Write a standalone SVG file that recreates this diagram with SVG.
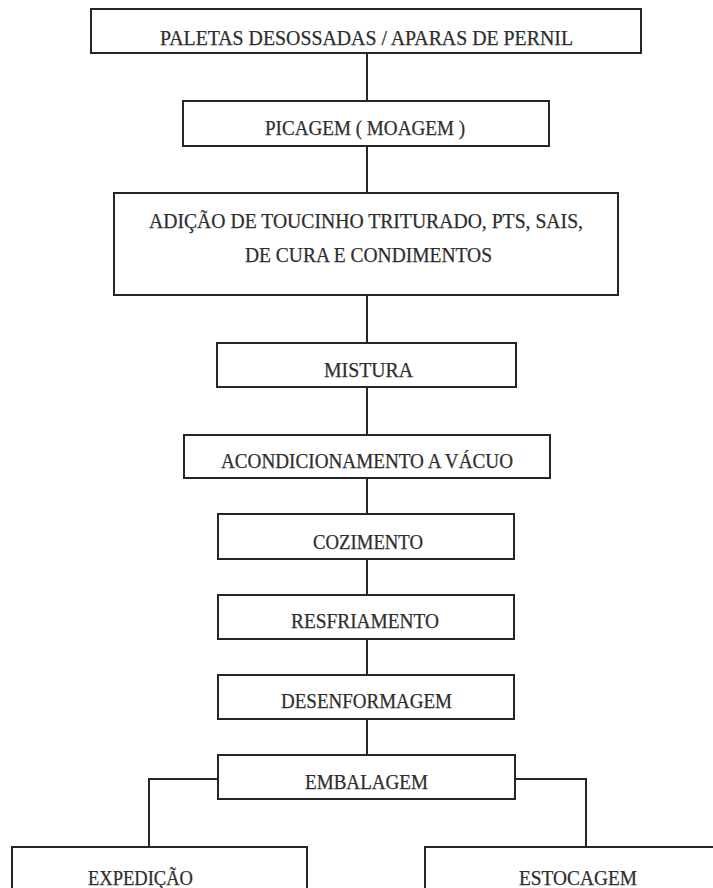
<svg xmlns="http://www.w3.org/2000/svg" width="713" height="888" viewBox="0 0 713 888">
  <style>
    .box { fill: #ffffff; stroke: #262626; stroke-width: 2; }
    .wire { fill: none; stroke: #262626; stroke-width: 2; }
    .label { font-family: "Liberation Serif", "Times New Roman", serif; font-size: 20px; fill: #2e2e2e; stroke: #2e2e2e; stroke-width: 0.25; text-anchor: middle; }
  </style>
  <rect width="713" height="888" fill="#ffffff"/>

  <!-- connectors between process steps -->
  <g id="connectors">
    <line class="wire" x1="367" y1="53" x2="367" y2="101"/>
    <line class="wire" x1="367" y1="146" x2="367" y2="193"/>
    <line class="wire" x1="367" y1="295" x2="367" y2="343"/>
    <line class="wire" x1="367" y1="387" x2="367" y2="435"/>
    <line class="wire" x1="367" y1="478" x2="367" y2="514"/>
    <line class="wire" x1="367" y1="559" x2="367" y2="595"/>
    <line class="wire" x1="367" y1="639" x2="367" y2="675"/>
    <line class="wire" x1="367" y1="719" x2="367" y2="755"/>
    <polyline class="wire" points="218,779 149,779 149,847"/>
    <polyline class="wire" points="515,779 586,779 586,847"/>
  </g>

  <g id="paletas">
    <rect class="box" x="91" y="9" width="550" height="44"/>
    <text class="label" x="366.5" y="44.5" textLength="413" lengthAdjust="spacingAndGlyphs">PALETAS DESOSSADAS / APARAS DE PERNIL</text>
  </g>

  <g id="picagem">
    <rect class="box" x="183" y="101" width="366" height="45"/>
    <text class="label" x="365" y="135" textLength="200" lengthAdjust="spacingAndGlyphs">PICAGEM ( MOAGEM )</text>
  </g>

  <g id="adicao">
    <rect class="box" x="114" y="193" width="504" height="102"/>
    <text class="label" x="366" y="228" textLength="434" lengthAdjust="spacingAndGlyphs">ADIÇÃO DE TOUCINHO TRITURADO, PTS, SAIS,</text>
    <text class="label" x="368.5" y="262" textLength="247" lengthAdjust="spacingAndGlyphs">DE CURA  E CONDIMENTOS</text>
  </g>

  <g id="mistura">
    <rect class="box" x="217" y="343" width="299" height="44"/>
    <text class="label" x="368.5" y="377" textLength="89" lengthAdjust="spacingAndGlyphs">MISTURA</text>
  </g>

  <g id="acondicionamento">
    <rect class="box" x="184" y="435" width="366" height="43"/>
    <text class="label" x="367" y="468" textLength="292" lengthAdjust="spacingAndGlyphs">ACONDICIONAMENTO A VÁCUO</text>
  </g>

  <g id="cozimento">
    <rect class="box" x="218" y="514" width="296" height="45"/>
    <text class="label" x="368" y="549" textLength="110" lengthAdjust="spacingAndGlyphs">COZIMENTO</text>
  </g>

  <g id="resfriamento">
    <rect class="box" x="218" y="595" width="296" height="44"/>
    <text class="label" x="365" y="628" textLength="148" lengthAdjust="spacingAndGlyphs">RESFRIAMENTO</text>
  </g>

  <g id="desenformagem">
    <rect class="box" x="218" y="675" width="296" height="44"/>
    <text class="label" x="366.5" y="708" textLength="171" lengthAdjust="spacingAndGlyphs">DESENFORMAGEM</text>
  </g>

  <g id="embalagem">
    <rect class="box" x="218" y="755" width="297" height="44"/>
    <text class="label" x="366.5" y="789" textLength="123" lengthAdjust="spacingAndGlyphs">EMBALAGEM</text>
  </g>

  <g id="expedicao">
    <rect class="box" x="12" y="847" width="295" height="60"/>
    <text class="label" x="140.5" y="885" textLength="105" lengthAdjust="spacingAndGlyphs">EXPEDIÇÃO</text>
  </g>

  <g id="estocagem">
    <rect class="box" x="425" y="847" width="320" height="60"/>
    <text class="label" x="578" y="885" textLength="118" lengthAdjust="spacingAndGlyphs">ESTOCAGEM</text>
  </g>
</svg>
